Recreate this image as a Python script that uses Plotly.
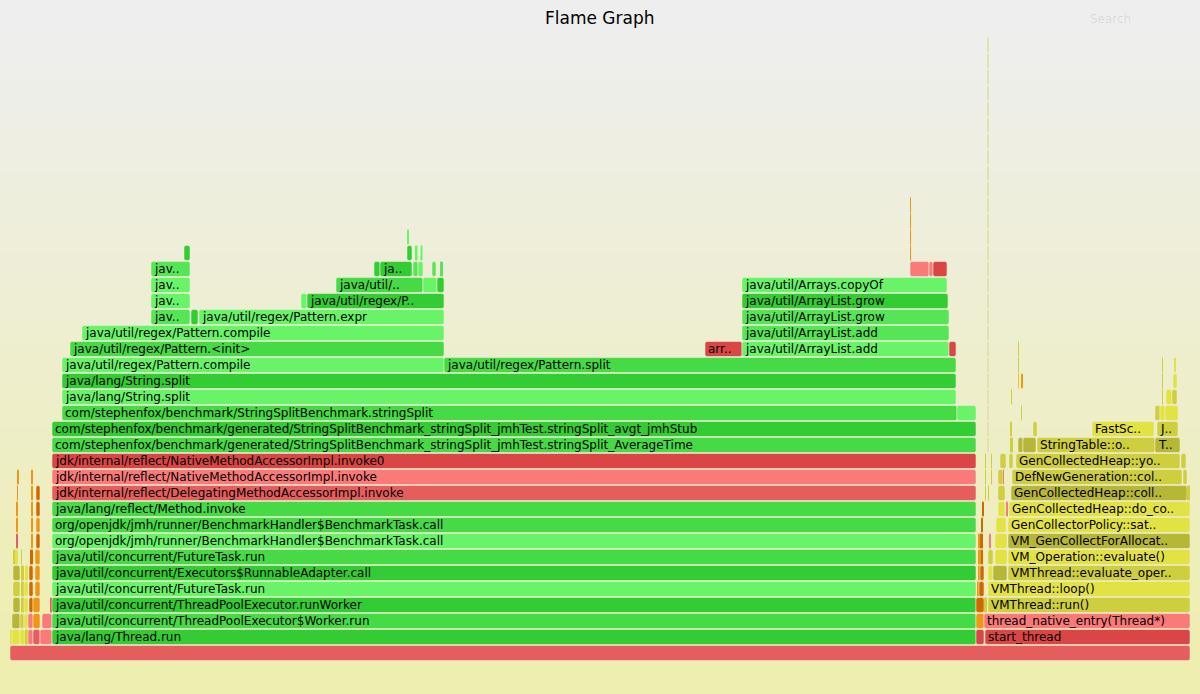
import plotly.graph_objects as go

# ---------------- data (sample counts; total = 1180) ----------------
TOTAL_SAMPLES = 1180

# each frame: (stack depth, first sample, last sample, displayed label, frame type)
root_frames = [(0, 0, 1180, "", "r")]

left_thread_frames = [
    (1, 0, 2, "", "l"), (1, 2, 10, "", "l"), (1, 10, 15, "", "l"), (1, 15, 18, "", "y"),
    (1, 18, 23, "", "p"), (1, 23, 30, "", "r"), (1, 30, 42, "", "p"),
    (2, 2, 10, "", "Y"), (2, 10, 14, "", "y"), (2, 14, 18, "", "l"), (2, 18, 23, "", "p"),
    (2, 23, 30, "", "o"), (2, 32, 42, "", "p"),
    (3, 3, 10, "", "Y"), (3, 11, 14, "", "y"), (3, 14, 18, "", "l"), (3, 19, 23, "", "O"),
    (3, 23, 30, "", "o"), (3, 40, 41.5, "", "r"),
    (4, 3, 10, "", "y"), (4, 11, 14, "", "y"), (4, 14, 18, "", "l"), (4, 19, 23, "", "O"),
    (4, 25, 30, "", "o"),
    (5, 3, 10, "", "Y"), (5, 11, 14, "", "y"), (5, 15, 18, "", "l"), (5, 19, 23, "", "O"),
    (5, 25, 30, "", "o"),
    (6, 3, 5, "", "y"), (6, 5, 8, "", "l"), (6, 11, 12, "", "y"), (6, 20, 23, "", "O"),
    (6, 25, 30, "", "o"),
    (7, 6, 8, "", "r"), (7, 21, 23, "", "o"), (7, 26, 30, "", "O"),
    (8, 6, 8, "", "o"), (8, 21, 23, "", "o"), (8, 26, 30, "", "o"),
    (9, 6.5, 8, "", "o"), (9, 21, 23, "", "o"), (9, 26, 30, "", "O"),
    (10, 7, 8, "", "o"), (10, 21.5, 23, "", "o"), (10, 26, 30, "", "O"),
    (11, 7.5, 8.3, "", "o"), (11, 21.5, 22.3, "", "o"),
]

java_frames = [
    (1, 42, 966, "java/lang/Thread.run", "G"),
    (2, 42, 966, "java/util/concurrent/ThreadPoolExecutor$Worker.run", "g"),
    (3, 42, 966, "java/util/concurrent/ThreadPoolExecutor.runWorker", "G"),
    (4, 42, 966, "java/util/concurrent/FutureTask.run", "h"),
    (5, 42, 966, "java/util/concurrent/Executors$RunnableAdapter.call", "G"),
    (6, 42, 966, "java/util/concurrent/FutureTask.run", "g"),
    (7, 42, 966, "org/openjdk/jmh/runner/BenchmarkHandler$BenchmarkTask.call", "h"),
    (8, 42, 966, "org/openjdk/jmh/runner/BenchmarkHandler$BenchmarkTask.call", "g"),
    (9, 42, 966, "java/lang/reflect/Method.invoke", "g"),
    (10, 42, 966, "jdk/internal/reflect/DelegatingMethodAccessorImpl.invoke", "r"),
    (11, 42, 966, "jdk/internal/reflect/NativeMethodAccessorImpl.invoke", "p"),
    (12, 42, 966, "jdk/internal/reflect/NativeMethodAccessorImpl.invoke0", "R"),
    (13, 42, 966, "com/stephenfox/benchmark/generated/StringSplitBenchmark_stringSplit_jmhTest.stringSplit_AverageTime", "g"),
    (14, 42, 966, "com/stephenfox/benchmark/generated/StringSplitBenchmark_stringSplit_jmhTest.stringSplit_avgt_jmhStub", "G"),
    (15, 52, 947, "com/stephenfox/benchmark/StringSplitBenchmark.stringSplit", "g"),
    (15, 947, 966, "", "h"),
    (16, 52, 946, "java/lang/String.split", "h"),
    (17, 52, 946, "java/lang/String.split", "G"),
    (18, 52, 434, "java/util/regex/Pattern.compile", "h"),
    (18, 434, 946, "java/util/regex/Pattern.split", "g"),
    (19, 60, 434, "java/util/regex/Pattern.&lt;init&gt;", "g"),
    (19, 695, 732, "arr..", "R"),
    (19, 732, 939, "java/util/ArrayList.add", "h"),
    (19, 939, 946, "", "R"),
    (20, 72, 434, "java/util/regex/Pattern.compile", "h"),
    (20, 732, 939, "java/util/ArrayList.add", "k"),
    (21, 141, 180, "jav..", "k"), (21, 181, 188, "", "G"),
    (21, 189, 434, "java/util/regex/Pattern.expr", "h"),
    (21, 732, 939, "java/util/ArrayList.grow", "k"),
    (22, 141, 180, "jav..", "h"), (22, 291, 297, "", "h"),
    (22, 297, 434, "java/util/regex/P..", "G"),
    (22, 732, 938, "java/util/ArrayList.grow", "G"),
    (23, 141, 180, "jav..", "h"), (23, 326, 413, "java/util/..", "g"),
    (23, 413, 427, "", "h"), (23, 427, 434, "", "G"),
    (23, 732, 937, "java/util/Arrays.copyOf", "h"),
    (24, 141, 180, "jav..", "k"), (24, 364, 370, "", "G"), (24, 370, 402, "ja..", "G"),
    (24, 403, 408, "", "k"), (24, 408, 413, "", "h"), (24, 422, 426, "", "k"),
    (24, 430, 433, "", "k"),
    (24, 900, 919, "", "p"), (24, 919, 923, "", "p"), (24, 923, 937, "", "R"),
    (25, 174, 180, "", "G"), (25, 397, 402, "", "G"), (25, 405, 407.5, "", "h"),
    (25, 410.5, 412.5, "", "h"), (25, 900, 901, "", "o"),
    (26, 397.5, 398.5, "", "h"), (26, 900, 901, "", "o"),
    (27, 900, 901, "", "o"),
    (28, 900, 901, "", "o"),
]

jvm_frames = [
    (1, 966, 974, "", "R"), (1, 975, 1180, "start_thread", "R"),
    (2, 966, 974, "", "o"), (2, 974, 1180, "thread_native_entry(Thread*)", "p"),
    (3, 966, 974, "", "O"), (3, 974, 977, "", "y"), (3, 978, 1180, "VMThread::run()", "y"),
    (4, 967, 969, "", "o"), (4, 969, 974, "", "O"), (4, 978, 1180, "VMThread::loop()", "l"),
    (5, 968, 970, "", "o"), (5, 970, 974, "", "O"), (5, 978, 983, "", "l"),
    (5, 983, 997, "", "Y"), (5, 998, 1180, "VMThread::evaluate_oper..", "y"),
    (6, 968, 971, "", "o"), (6, 971, 973, "", "O"), (6, 978, 983, "", "y"),
    (6, 985, 997, "", "l"), (6, 998, 1180, "VM_Operation::evaluate()", "l"),
    (7, 968, 970, "", "o"), (7, 970, 973, "", "O"), (7, 979.5, 980.5, "", "p"),
    (7, 985, 997, "", "l"), (7, 998, 1180, "VM_GenCollectForAllocat..", "Y"),
    (8, 971, 973, "", "O"), (8, 986, 996, "", "l"),
    (8, 998, 1180, "GenCollectorPolicy::sat..", "l"),
    (9, 972, 974, "", "O"), (9, 988, 995, "", "l"), (9, 996.5, 997.5, "", "p"),
    (9, 999, 1180, "GenCollectedHeap::do_co..", "l"),
    (10, 975, 976, "", "y"), (10, 978, 979, "", "y"), (10, 988, 995, "", "y"),
    (10, 1001, 1177, "GenCollectedHeap::coll..", "Y"), (10, 1177, 1180, "", "y"),
    (11, 975, 976, "", "y"), (11, 981, 982, "", "y"), (11, 988, 993, "", "y"),
    (11, 993, 994, "", "p"), (11, 1002, 1172, "DefNewGeneration::col..", "y"),
    (11, 1173, 1177, "", "y"),
    (12, 975, 976, "", "y"), (12, 981, 982, "", "y"), (12, 990, 996, "", "y"),
    (12, 999, 1003, "", "y"), (12, 1006, 1170, "GenCollectedHeap::yo..", "y"),
    (12, 1171, 1176, "", "y"),
    (13, 1000, 1003, "", "y"), (13, 1008, 1013, "", "Y"), (13, 1013, 1026, "", "Y"),
    (13, 1027, 1145, "StringTable::o..", "y"), (13, 1145, 1170, "T..", "Y"),
    (14, 1000, 1002, "", "y"), (14, 1023, 1027, "", "y"),
    (14, 1082, 1144, "FastSc..", "l"), (14, 1147, 1168, "J..", "y"),
    (15, 1011, 1012, "", "y"), (15, 1145, 1150, "", "y"), (15, 1150, 1155, "", "l"),
    (15, 1155, 1168, "", "l"),
    (16, 1001, 1002, "", "y"), (16, 1152, 1153, "", "y"), (16, 1156, 1162, "", "l"),
    (16, 1162, 1167, "", "y"),
    (17, 1008, 1009, "", "y"), (17, 1011.5, 1012.5, "", "o"), (17, 1152, 1153, "", "y"),
    (17, 1163, 1167, "", "l"),
    (18, 1008, 1009, "", "y"), (18, 1152, 1153, "", "y"), (18, 1164, 1166, "", "l"),
    (19, 1008, 1009, "", "y"),
]

spire_frames = [
    (13, 977, 978.5, "", "q"), (14, 977, 978.5, "", "q"), (15, 977, 978.5, "", "q"),
    (16, 977, 978.5, "", "q"), (17, 977, 978.5, "", "q"), (18, 977, 978.5, "", "q"),
    (19, 977, 978.5, "", "q"), (20, 977, 978.5, "", "q"), (21, 977, 978.5, "", "q"),
    (22, 977, 978.5, "", "q"), (23, 977, 978.5, "", "q"), (24, 977, 978.5, "", "q"),
    (25, 977, 978.5, "", "q"), (26, 977, 978.5, "", "q"), (27, 977, 978.5, "", "q"),
    (28, 977, 978.5, "", "q"), (29, 977, 978.5, "", "q"), (30, 977, 978.5, "", "q"),
    (31, 977, 978.5, "", "q"), (32, 977, 978.5, "", "q"), (33, 977, 978.5, "", "q"),
    (34, 977, 978.5, "", "q"), (35, 977, 978.5, "", "q"), (36, 977, 978.5, "", "q"),
    (37, 977, 978.5, "", "q"), (38, 977, 978.5, "", "q"),
]

# ---------------- styling ----------------
PALETTE = {
    "G": "rgb(52,204,52)", "g": "rgb(70,218,70)", "k": "rgb(86,229,86)", "h": "rgb(104,243,104)",
    "R": "rgb(218,70,70)", "r": "rgb(229,93,93)", "p": "rgb(250,122,122)",
    "Y": "rgb(183,183,55)", "y": "rgb(206,206,62)", "l": "rgb(226,226,68)",
    "O": "rgb(208,104,0)", "o": "rgb(240,150,20)", "q": "rgb(226,226,172)",
}
FONT = "DejaVu Sans, Verdana, sans-serif"

frames = root_frames + left_thread_frames + java_frames + jvm_frames + spire_frames
levels = [f[0] for f in frames]
starts = [f[1] for f in frames]
widths = [f[2] - f[1] for f in frames]
labels = [f[3] for f in frames]
colors = [PALETTE[f[4]] for f in frames]
line_w = [0.6 if w > 3 else 0 for w in widths]

fig = go.Figure()
fig.add_trace(go.Bar(
    orientation="h", y=levels, x=widths, base=starts,
    marker=dict(color=colors, cornerradius=2,
                line=dict(color="rgba(238,238,214,0.9)", width=line_w)),
    text=labels, textposition="inside", insidetextanchor="start", textangle=0,
    constraintext="none",
    insidetextfont=dict(family=FONT, size=12, color="black"),
    hoverinfo="skip", cliponaxis=False,
))

# background gradient (#eeeeee -> #eeeeb0)
shapes = []
n_bands = 60
for i in range(n_bands):
    t = (i + 0.5) / n_bands
    f = min(max((t - 0.05) / 0.9, 0), 1)
    b = round(238 + (176 - 238) * f)
    shapes.append(dict(type="rect", xref="paper", yref="paper", x0=0, x1=1,
                       y0=1 - (i + 1) / n_bands, y1=1 - i / n_bands + 0.001,
                       fillcolor=f"rgb(238,238,{b})", line=dict(width=0), layer="below"))

W, H = 1200, 694
fig.update_layout(
    width=W, height=H, margin=dict(l=0, r=0, t=0, b=0),
    paper_bgcolor="rgb(238,238,210)", plot_bgcolor="rgba(0,0,0,0)",
    barmode="overlay", bargap=1 / 16, showlegend=False,
    xaxis=dict(visible=False, range=[-10, TOTAL_SAMPLES + 10], fixedrange=True),
    yaxis=dict(visible=False, range=[-2.5625, 40.8125], fixedrange=True),
    shapes=shapes,
    annotations=[
        dict(text="Flame Graph", xref="paper", yref="paper", x=0.5, y=1 - 18 / H,
             xanchor="center", yanchor="middle", showarrow=False,
             font=dict(family=FONT, size=17, color="black")),
        dict(text="Search", xref="paper", yref="paper", x=1088 / W, y=1 - 19 / H,
             xanchor="left", yanchor="middle", showarrow=False,
             font=dict(family=FONT, size=12, color="rgba(0,0,0,0.1)")),
    ],
)

fig.write_html("out.html")
